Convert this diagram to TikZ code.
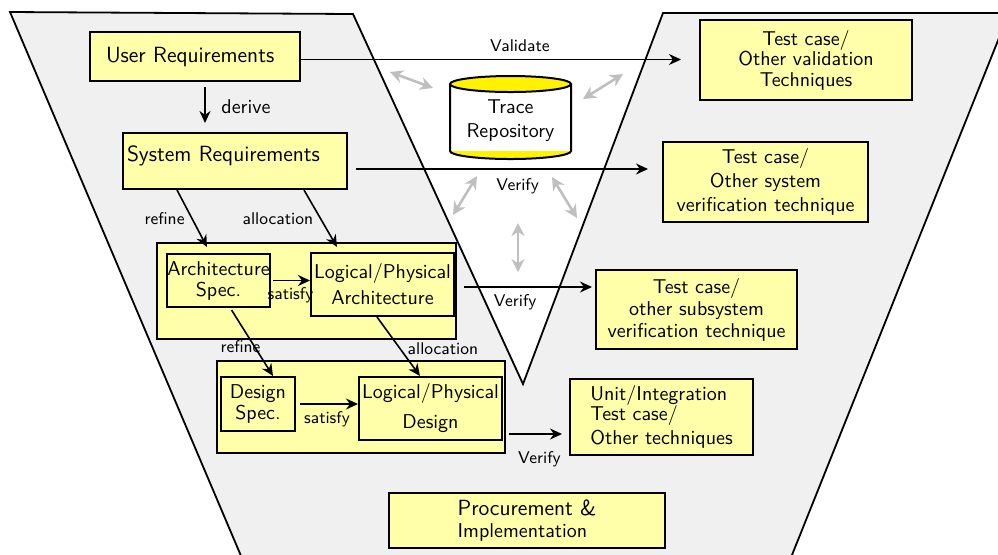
\documentclass[tikz,border=0pt]{standalone}
\usetikzlibrary{arrows.meta}
\renewcommand{\familydefault}{\sfdefault}
\definecolor{boxfill}{RGB}{255,255,170}
\definecolor{vfill}{RGB}{240,240,240}
\begin{document}
\begin{tikzpicture}[x=0.5pt, y=-0.5pt,
    box/.style={draw, line width=1pt, fill=boxfill, inner xsep=1pt, align=center},
    flow/.style={thick, -{Stealth[length=6pt, width=5.5pt]}},
    trlink/.style={line width=1.3pt, black!25, {Stealth[length=6.5pt, width=6.5pt]}-{Stealth[length=6.5pt, width=6.5pt]}},
    lbl/.style={font=\fontsize{8.5}{10}\selectfont},
    bigtxt/.style={font=\fontsize{11}{13}\selectfont}]
      \useasboundingbox (0,0) rectangle (998,554);
      \draw[line width=0.9pt, fill=vfill] (10,12) -- (353,14) -- (523,384) -- (663,13) -- (1009,13) -- (786,570) -- (247,570) -- cycle;
      \node[box, bigtxt, text width=89pt, inner xsep=8pt, minimum height=24.5pt, align=left] (req1) at (195,56.5) {User Requirements};
      \node[box, bigtxt, text width=108pt, inner xsep=2pt, inner ysep=2.5pt, text height=11.5pt, text depth=11.5pt, align=left] (req2) at (235,161) {System Requirements};
      \node[box, minimum width=149.5pt, minimum height=48pt] (grp1) at (306.5,291) {};
      \node[box, minimum width=51.5pt, minimum height=24.5pt, inner xsep=0pt] (spec1) at (218.5,280.5) {Architecture\\[-1.5pt]Spec.};
      \node[box, minimum width=71.5pt, minimum height=31.5pt] (lp1) at (382.5,284.5) {Logical/Physical\\[1pt]Architecture};
      \node[box, minimum width=144pt, minimum height=46pt] (grp2) at (361,407) {};
      \node[box, minimum width=37pt, minimum height=27pt] (spec2) at (258,404) {Design\\[-1.75pt]Spec.};
      \node[box, minimum width=71.5pt, minimum height=31.5pt] (lp2) at (430.5,408.5) {Logical/Physical\\[3pt]Design};
      \node[box, minimum width=106pt, minimum height=40pt] (tc1) at (806,60) {Test case/\\[-1.75pt]Other validation\\[-1.75pt]Techniques};
      \node[box, minimum width=102.5pt, minimum height=40pt] (tc2) at (765.5,182) {Test case/\\Other system\\verification technique};
      \node[box, minimum width=100.5pt, minimum height=39.5pt] (tc3) at (696.5,309.5) {Test case/\\[-1pt]other subsystem\\[-1pt]verification technique};
      \node[box, minimum width=91.5pt, minimum height=36pt, align=left] (tc4) at (661.5,417) {Unit/Integration\\[-2pt]Test case/\\Other techniques};
      \node[box, minimum width=138pt, minimum height=27.5pt, align=left] (proc) at (527,520.5) {{\fontsize{11}{13}\selectfont Procurement \&}\\[-1pt]Implementation};
      \fill[yellow] (510.5,151) ellipse [x radius=60.5, y radius=8];
      \fill[white] (450,84) rectangle (571,151);
      \draw[line width=1pt] (450,84) -- (450,151) arc [start angle=180, end angle=0, x radius=60.5, y radius=8] -- (571,84);
      \draw[line width=1pt, fill=yellow] (510.5,84) ellipse [x radius=60.5, y radius=8];
      \node[align=center] (repo) at (510.5,121) {Trace\\Repository};
      \draw[flow, shorten <=2.5pt, shorten >=4.5pt] ([xshift=5pt]req1.south) -- ([xshift=5pt]req1.south |- req2.north) node[midway, right=4.5pt] {derive};
      \draw[flow, shorten >=9pt] ([yshift=-1.5pt]req1.east) -- ([yshift=-1.5pt]req1.east -| tc1.west) node[lbl, pos=0.55, above] {Validate};
      \draw[flow, shorten <=4pt, shorten >=7pt] ([yshift=-4pt]req2.east) -- ([yshift=-4pt]req2.east -| tc2.west) node[lbl, pos=0.54, below=1pt] {Verify};
      \draw[flow, shorten <=4.5pt, shorten >=1.5pt] ([yshift=-1.25pt]lp1.east) -- ([yshift=-1.25pt]lp1.east -| tc3.west) node[lbl, pos=0.43, below] {Verify};
      \draw[flow, shorten <=1.5pt, shorten >=3.5pt] ([yshift=-13.5pt]grp2.east) -- ([yshift=-13.5pt]grp2.east -| tc4.west) node[lbl, pos=0.53, below=5pt] {Verify};
      \draw[flow] ([xshift=27.5pt]req2.south west) -- ([shift={(25.5pt,-2.5pt)}]grp1.north west) node[lbl, midway, left] {refine};
      \draw[flow] ([xshift=91pt]req2.south west) -- ([shift={(90.5pt,-2.5pt)}]grp1.north west) node[lbl, midway, left] {allocation};
      \draw[flow, shorten <=1pt] (spec1.east) -- (spec1.east -| lp1.west) node[lbl, midway, below] {satisfy};
      \draw[flow, shorten <=1.5pt] ([xshift=5.75pt]spec1.south) -- ([xshift=7.5pt]spec2.north) node[lbl, pos=0.57, xshift=-7pt] {refine};
      \draw[flow] ([xshift=-2.75pt]lp1.south) -- ([xshift=-5.25pt]lp2.north) node[lbl, pos=0.54, right] {allocation};
      \draw[flow, shorten <=2pt] (spec2.east) -- (spec2.east -| lp2.west) node[lbl, midway, below] {satisfy};
      \coordinate (t1) at (390,72);
      \coordinate (t2) at (433,88);
      \coordinate (t3) at (623,74);
      \coordinate (t4) at (583,99);
      \coordinate (t5) at (477,176);
      \coordinate (t6) at (453,215);
      \coordinate (t7) at (552,177);
      \coordinate (t8) at (577,218);
      \coordinate (t9) at (518,223);
      \coordinate (t10) at (518,272);
      \foreach \a/\b in {t1/t2, t3/t4, t5/t6, t7/t8, t9/t10}
        \draw[trlink] (\a) -- (\b);
    \end{tikzpicture}
\end{document}
